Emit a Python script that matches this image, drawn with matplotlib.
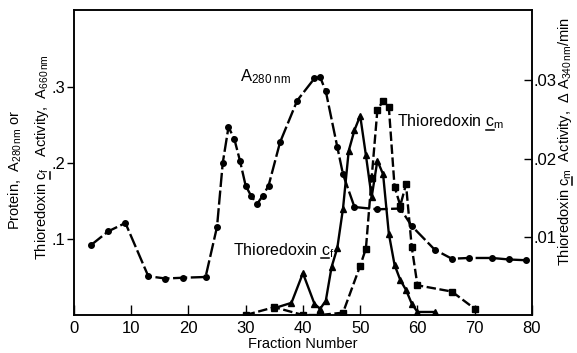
import matplotlib
matplotlib.use("Agg")
import matplotlib.pyplot as plt
from matplotlib.lines import Line2D

plt.rcParams['font.family'] = ['Liberation Sans', 'DejaVu Sans']
plt.rcParams['mathtext.fontset'] = 'custom'
plt.rcParams['mathtext.rm'] = 'Liberation Sans'
plt.rcParams['mathtext.it'] = 'Liberation Sans'

# Protein, A280 nm (left axis)
protein_x = [3, 6, 9, 13, 16, 19, 23, 25, 26, 27, 28, 29, 30, 31, 32, 33, 34, 36, 39,
             42, 43, 44, 46, 47, 49, 53, 57, 59, 63, 66, 69, 73, 76, 79]
protein_y = [0.092, 0.110, 0.121, 0.051, 0.048, 0.049, 0.050, 0.116, 0.200, 0.247,
             0.232, 0.203, 0.170, 0.156, 0.146, 0.157, 0.170, 0.227, 0.282, 0.311,
             0.313, 0.294, 0.221, 0.185, 0.142, 0.139, 0.140, 0.117, 0.086, 0.074,
             0.075, 0.075, 0.073, 0.072]

# Thioredoxin c_f activity, A660 nm (left axis)
cf_x = [35, 38, 40, 42, 43, 44, 45, 46, 47, 48, 49, 50, 51, 52, 53, 54, 55, 56, 57,
        58, 59, 60, 63]
cf_y = [0.009, 0.016, 0.055, 0.015, 0.008, 0.019, 0.063, 0.088, 0.140, 0.216, 0.243,
        0.262, 0.210, 0.155, 0.203, 0.185, 0.107, 0.066, 0.046, 0.033, 0.015, 0.004,
        0.004]

# Thioredoxin c_m activity, dA340 nm/min (right axis)
cm_x = [30, 35, 40, 43, 47, 50, 51, 52, 53, 54, 55, 56, 57, 58, 59, 60, 66, 70]
cm_y = [0.0, 0.0010, 0.0, 0.0, 0.0003, 0.0063, 0.0085, 0.0175, 0.0262, 0.0274,
        0.0266, 0.0164, 0.0140, 0.0167, 0.0087, 0.0038, 0.0030, 0.0008]

x_ticks = [0, 10, 20, 30, 40, 50, 60, 70, 80]
left_ticks = [0.1, 0.2, 0.3]
left_labels = ['.1', '.2', '.3']
right_ticks = [0.01, 0.02, 0.03]
right_labels = ['.01', '.02', '.03']

fig = plt.figure(figsize=(5.77, 3.53), dpi=100)
ax = fig.add_axes([0.128, 0.1076, 0.794, 0.864])
ax2 = ax.twinx()

lw = 1.7
ax.plot(protein_x, protein_y, color='black', lw=lw, dashes=(6, 1.5),
        marker='o', ms=4.0, zorder=3)
ax.plot(cf_x, cf_y, color='black', lw=lw, ls='-',
        marker='^', ms=4.4, zorder=3)
ax2.plot(cm_x, cm_y, color='black', lw=lw, dashes=(4, 1.5),
         marker='s', ms=3.8, zorder=3)

ax.set_xlim(0, 80)
ax.set_ylim(0, 0.401)
ax2.set_ylim(0, 0.039)

ax.set_xticks(x_ticks)
ax.set_xticklabels([str(t) for t in x_ticks], fontsize=12)
ax.set_yticks(left_ticks)
ax.set_yticklabels(left_labels, fontsize=12)
ax2.set_yticks(right_ticks)
ax2.set_yticklabels(right_labels, fontsize=12)

ax.tick_params(axis='x', direction='in', length=7, width=1, pad=4)
ax.tick_params(axis='y', direction='out', length=5, width=1, pad=1)
ax2.tick_params(axis='y', direction='in', length=6, width=1, pad=1)

for a in (ax, ax2):
    for s in a.spines.values():
        s.set_linewidth(1.1)

ax.set_xlabel('Fraction Number', fontsize=10.5, labelpad=1)

fig.text(0.026, 0.52, r'Protein,  A$_{280\,\mathrm{nm}}$ or', rotation=90,
         fontsize=10.5, ha='center', va='center')

underlined = []  # (text artist, prefix-through-c string, rotated?)

lab_f = r'Thioredoxin $\mathrm{c}_{\mathrm{f}}$   Activity,  A$_{660\,\mathrm{nm}}$'
t1 = fig.text(0.073, 0.555, lab_f, rotation=90, fontsize=10.5, ha='center', va='center')
underlined.append((t1, 'Thioredoxin c', True))

lab_m = r'Thioredoxin $\mathrm{c}_{\mathrm{m}}$  Activity,  $\Delta$ A$_{340\,\mathrm{nm}}$/min'
t2 = fig.text(0.979, 0.60, lab_m, rotation=90, fontsize=10.5, ha='center', va='center')
underlined.append((t2, 'Thioredoxin c', True))

ax.text(29, 0.307, r'A$_{280\ \mathrm{nm}}$', fontsize=12, ha='left', va='baseline')
t3 = ax.text(56.5, 0.254, r'Thioredoxin $\mathrm{c}_{\mathrm{m}}$', fontsize=11.5,
             ha='left', va='center')
underlined.append((t3, 'Thioredoxin c', False))
t4 = ax.text(27.8, 0.085, r'Thioredoxin $\mathrm{c}_{\mathrm{f}}$', fontsize=11.5,
             ha='left', va='center')
underlined.append((t4, 'Thioredoxin c', False))

fig.canvas.draw()
renderer = fig.canvas.get_renderer()


def text_width(s, size):
    tmp = fig.text(0, 0, s, fontsize=size)
    w = tmp.get_window_extent(renderer).width
    tmp.remove()
    return w


inv = fig.transFigure.inverted()
for t, pref, rot in underlined:
    size = t.get_fontsize()
    bb = t.get_window_extent(renderer)
    end = text_width(pref, size)
    start = end - text_width('c', size)
    if rot:
        xline = bb.x1 - 1.5
        p0 = inv.transform((xline, bb.y0 + start))
        p1 = inv.transform((xline, bb.y0 + end))
    else:
        yline = bb.y0 + 1.5
        p0 = inv.transform((bb.x0 + start, yline))
        p1 = inv.transform((bb.x0 + end, yline))
    fig.add_artist(Line2D([p0[0], p1[0]], [p0[1], p1[1]], color='black', lw=1.1,
                          transform=fig.transFigure))

fig.savefig('out.png', dpi=100)
